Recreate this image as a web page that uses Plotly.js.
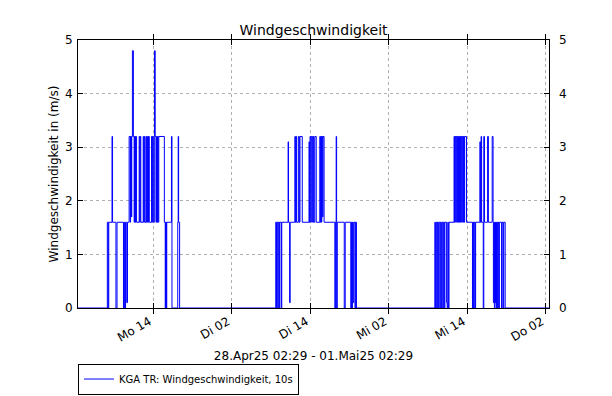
<!DOCTYPE html>
<html>
<head>
<meta charset="utf-8">
<script src="https://cdn.plot.ly/plotly-3.0.1.min.js"></script>
<style>html,body{margin:0;padding:0;background:#fff;}#chart{width:612px;height:396px;}</style>
</head>
<body>
<div id="chart"></div>
<script>
// Range of the chart
const rangeStart = '2025-04-28 02:29';
const rangeEnd = '2025-05-01 02:29';

// Monday 28.04.2025 (time of day, wind speed m/s)
const monTimes = ['02:29','06:58','07:06','07:11','07:41','07:46','08:17','08:27','09:26','09:33','09:38','09:45','09:56','10:03',
  '10:18','10:28','10:31','10:39','10:42','10:48','10:57','11:04','11:08','11:13','11:17','11:26','11:50','11:56','11:59','12:05',
  '12:27','12:32','12:37','12:43','12:53','12:58','13:07','13:13','13:16','13:23','13:44','13:48','13:51','14:00','14:09','14:11',
  '14:17','14:24','14:29','14:33','14:38','14:45','14:50','15:41','15:49','15:52','16:00','16:03','16:46','16:51','17:44','17:48',
  '17:52','18:01'];
const monWind = [0,1.6,0,1.6,3.2,1.6,0,1.6,0,1.6,0,1.6,0.1,1.6,
  3.2,1.6,3.2,1.7,3.2,4.8,3.2,1.6,3.2,1.6,3.2,1.6,3.2,1.6,3.2,1.6,
  3.2,1.6,3.2,1.6,3.2,1.6,3.2,1.6,3.2,1.6,3.2,1.6,3.2,1.6,3.2,4.8,
  3.2,1.6,3.2,1.6,3.2,1.6,3.2,1.6,0,1.6,0,1.6,3.2,0,1.6,3.2,
  1.6,0];

// Tuesday 29.04.2025
const dieTimes = ['08:43','08:49','08:54','09:02','09:06','09:16','09:20','09:34','09:38','10:36','10:40','10:50','10:55',
  '11:38','11:43','11:49','11:54','12:10','12:19','12:25','12:46','13:48','13:52','13:57','14:04','14:09','14:21','14:27','14:32',
  '14:41','14:54','15:27','15:32','15:36','15:42','15:45','15:53','15:56','16:06','17:45','17:50','17:57','18:01','18:07',
  '19:11','19:20','20:11','20:17','20:22','20:26','20:33','20:39','20:50','20:53','21:03'];
const dieWind = [1.6,0,1.6,0,1.6,0,1.6,0,1.6,3.1,1.6,0.1,1.6,
  3.2,1.6,3.2,1.6,3.2,1.6,3.2,1.6,3.1,1.6,3.2,1.6,3.2,1.6,3.2,1.6,
  3.2,1.6,3.2,1.6,3.2,1.6,3.2,1.7,3.2,1.6,0,1.6,3.2,0,1.6,
  0,1.6,0,1.6,0,1.6,0.1,1.6,0,1.6,0];

// Wednesday 30.04.2025
const mitTimes = ['09:02','09:07','09:13','09:20','09:25','09:33','09:38','09:48','09:52','10:01','10:06','10:15','10:20','10:29',
  '10:34','10:50','10:55','11:01','11:06','11:12','11:58','12:03','12:07','12:14','12:18','12:25','12:29','12:36','12:40','12:47',
  '12:51','12:58','13:02','13:09','13:13','13:20','13:24','13:31','13:35','13:52','14:47','14:52','14:58','15:03','15:11','15:16',
  '15:55','16:00','16:06','16:11','16:26','16:31','16:37','17:06','17:13','17:48','17:56','17:59','18:05','18:08','18:14','18:18',
  '18:23','18:27','18:32','18:38','18:43','18:49','18:54','19:14','19:19','19:29','19:34','19:47'];
const mitWind = [1.6,0,1.6,0,1.6,0,1.6,0,1.6,0,1.6,0,1.6,0,
  1.6,0.1,0,1.6,0,1.6,3.2,1.6,3.2,1.6,3.2,1.6,3.2,1.6,3.2,1.6,
  3.2,1.6,3.2,1.6,3.2,1.6,3.2,1.6,3.2,1.6,0,1.6,0,1.6,0,1.6,
  3.1,1.6,3.2,1.6,0,3.2,1.6,3.2,1.6,3.2,1.6,0.1,1.6,0,1.6,0.1,
  1.6,0,1.6,0,1.6,0,1.6,0,1.6,0,1.6,0];

// Thursday 01.05.2025
const donTimes = ['02:29'];
const donWind = [0];

// Axis ticks
const tickDates = ['2025-04-28 14:00','2025-04-29 02:00','2025-04-29 14:00','2025-04-30 02:00','2025-04-30 14:00','2025-05-01 02:00'];
const tickLabels = ['Mo 14','Di 02','Di 14','Mi 02','Mi 14','Do 02'];
const yTicks = [0,1,2,3,4,5];

const seriesName = 'KGA TR: Windgeschwindigkeit, 10s';

const times = [].concat(
  monTimes.map(t => '2025-04-28 ' + t),
  dieTimes.map(t => '2025-04-29 ' + t),
  mitTimes.map(t => '2025-04-30 ' + t),
  donTimes.map(t => '2025-05-01 ' + t)
);
const wind = [].concat(monWind, dieWind, mitWind, donWind);

const font = 'DejaVu Sans, Liberation Sans, sans-serif';

const traces = [
  {
    x: times, y: wind, type: 'scatter', mode: 'lines', name: seriesName,
    line: {color: '#0000ff', width: 1, shape: 'hv'}, hoverinfo: 'skip'
  },
  {
    x: times, y: wind, type: 'scatter', mode: 'lines', yaxis: 'y2', showlegend: false,
    opacity: 0, line: {color: '#0000ff', width: 1, shape: 'hv'}, hoverinfo: 'skip'
  }
];

const layout = {
  width: 612, height: 396,
  margin: {l: 78, r: 63, t: 40, b: 88, pad: 0, autoexpand: false},
  paper_bgcolor: '#ffffff', plot_bgcolor: '#ffffff',
  font: {family: font, size: 12, color: '#000000'},
  title: {text: 'Windgeschwindigkeit', font: {family: font, size: 14, color: '#000'},
          x: 0.5, xref: 'paper', y: 0.924, yref: 'container', yanchor: 'middle'},
  showlegend: true,
  legend: {x: 0, y: 0.082, xref: 'paper', yref: 'container', xanchor: 'left', yanchor: 'top',
           bordercolor: '#000000', borderwidth: 1, bgcolor: '#ffffff',
           font: {family: font, size: 10, color: '#000'}, itemwidth: 30},
  xaxis: {
    type: 'date', range: [rangeStart, rangeEnd], automargin: false,
    tickmode: 'array', tickvals: tickDates, ticktext: tickLabels, tickangle: -30,
    ticks: 'inside', ticklen: 5, tickcolor: '#000', tickwidth: 1, ticklabelstandoff: 1, ticklabelshift: -4,
    showline: true, linecolor: '#000', linewidth: 1, mirror: 'allticks',
    showgrid: true, gridcolor: '#b0b0b0', griddash: 'dot', gridwidth: 1,
    zeroline: false, tickfont: {family: font, size: 12, color: '#000'},
    title: {text: '28.Apr25 02:29 - 01.Mai25 02:29', font: {family: font, size: 12, color: '#000'}, standoff: 8}
  },
  yaxis: {
    range: [0, 5], tickmode: 'array', tickvals: yTicks, ticktext: yTicks.map(String), automargin: false,
    ticks: 'inside', ticklen: 5, tickcolor: '#000', tickwidth: 1, ticklabelstandoff: 2,
    showline: true, linecolor: '#000', linewidth: 1, mirror: 'allticks',
    showgrid: true, gridcolor: '#b0b0b0', griddash: 'dot', gridwidth: 1,
    zeroline: false, tickfont: {family: font, size: 12, color: '#000'},
    title: {text: 'Windgeschwindigkeit in (m/s)', font: {family: font, size: 12, color: '#000'}, standoff: 3}
  },
  yaxis2: {
    range: [0, 5], overlaying: 'y', side: 'right', tickmode: 'array', tickvals: yTicks, ticktext: yTicks.map(String),
    ticks: '', showline: false, showgrid: false, zeroline: false, automargin: false, ticklabelstandoff: 9,
    tickfont: {family: font, size: 12, color: '#000'}
  }
};

Plotly.newPlot('chart', traces, layout, {staticPlot: true, displayModeBar: false});
</script>
</body>
</html>
